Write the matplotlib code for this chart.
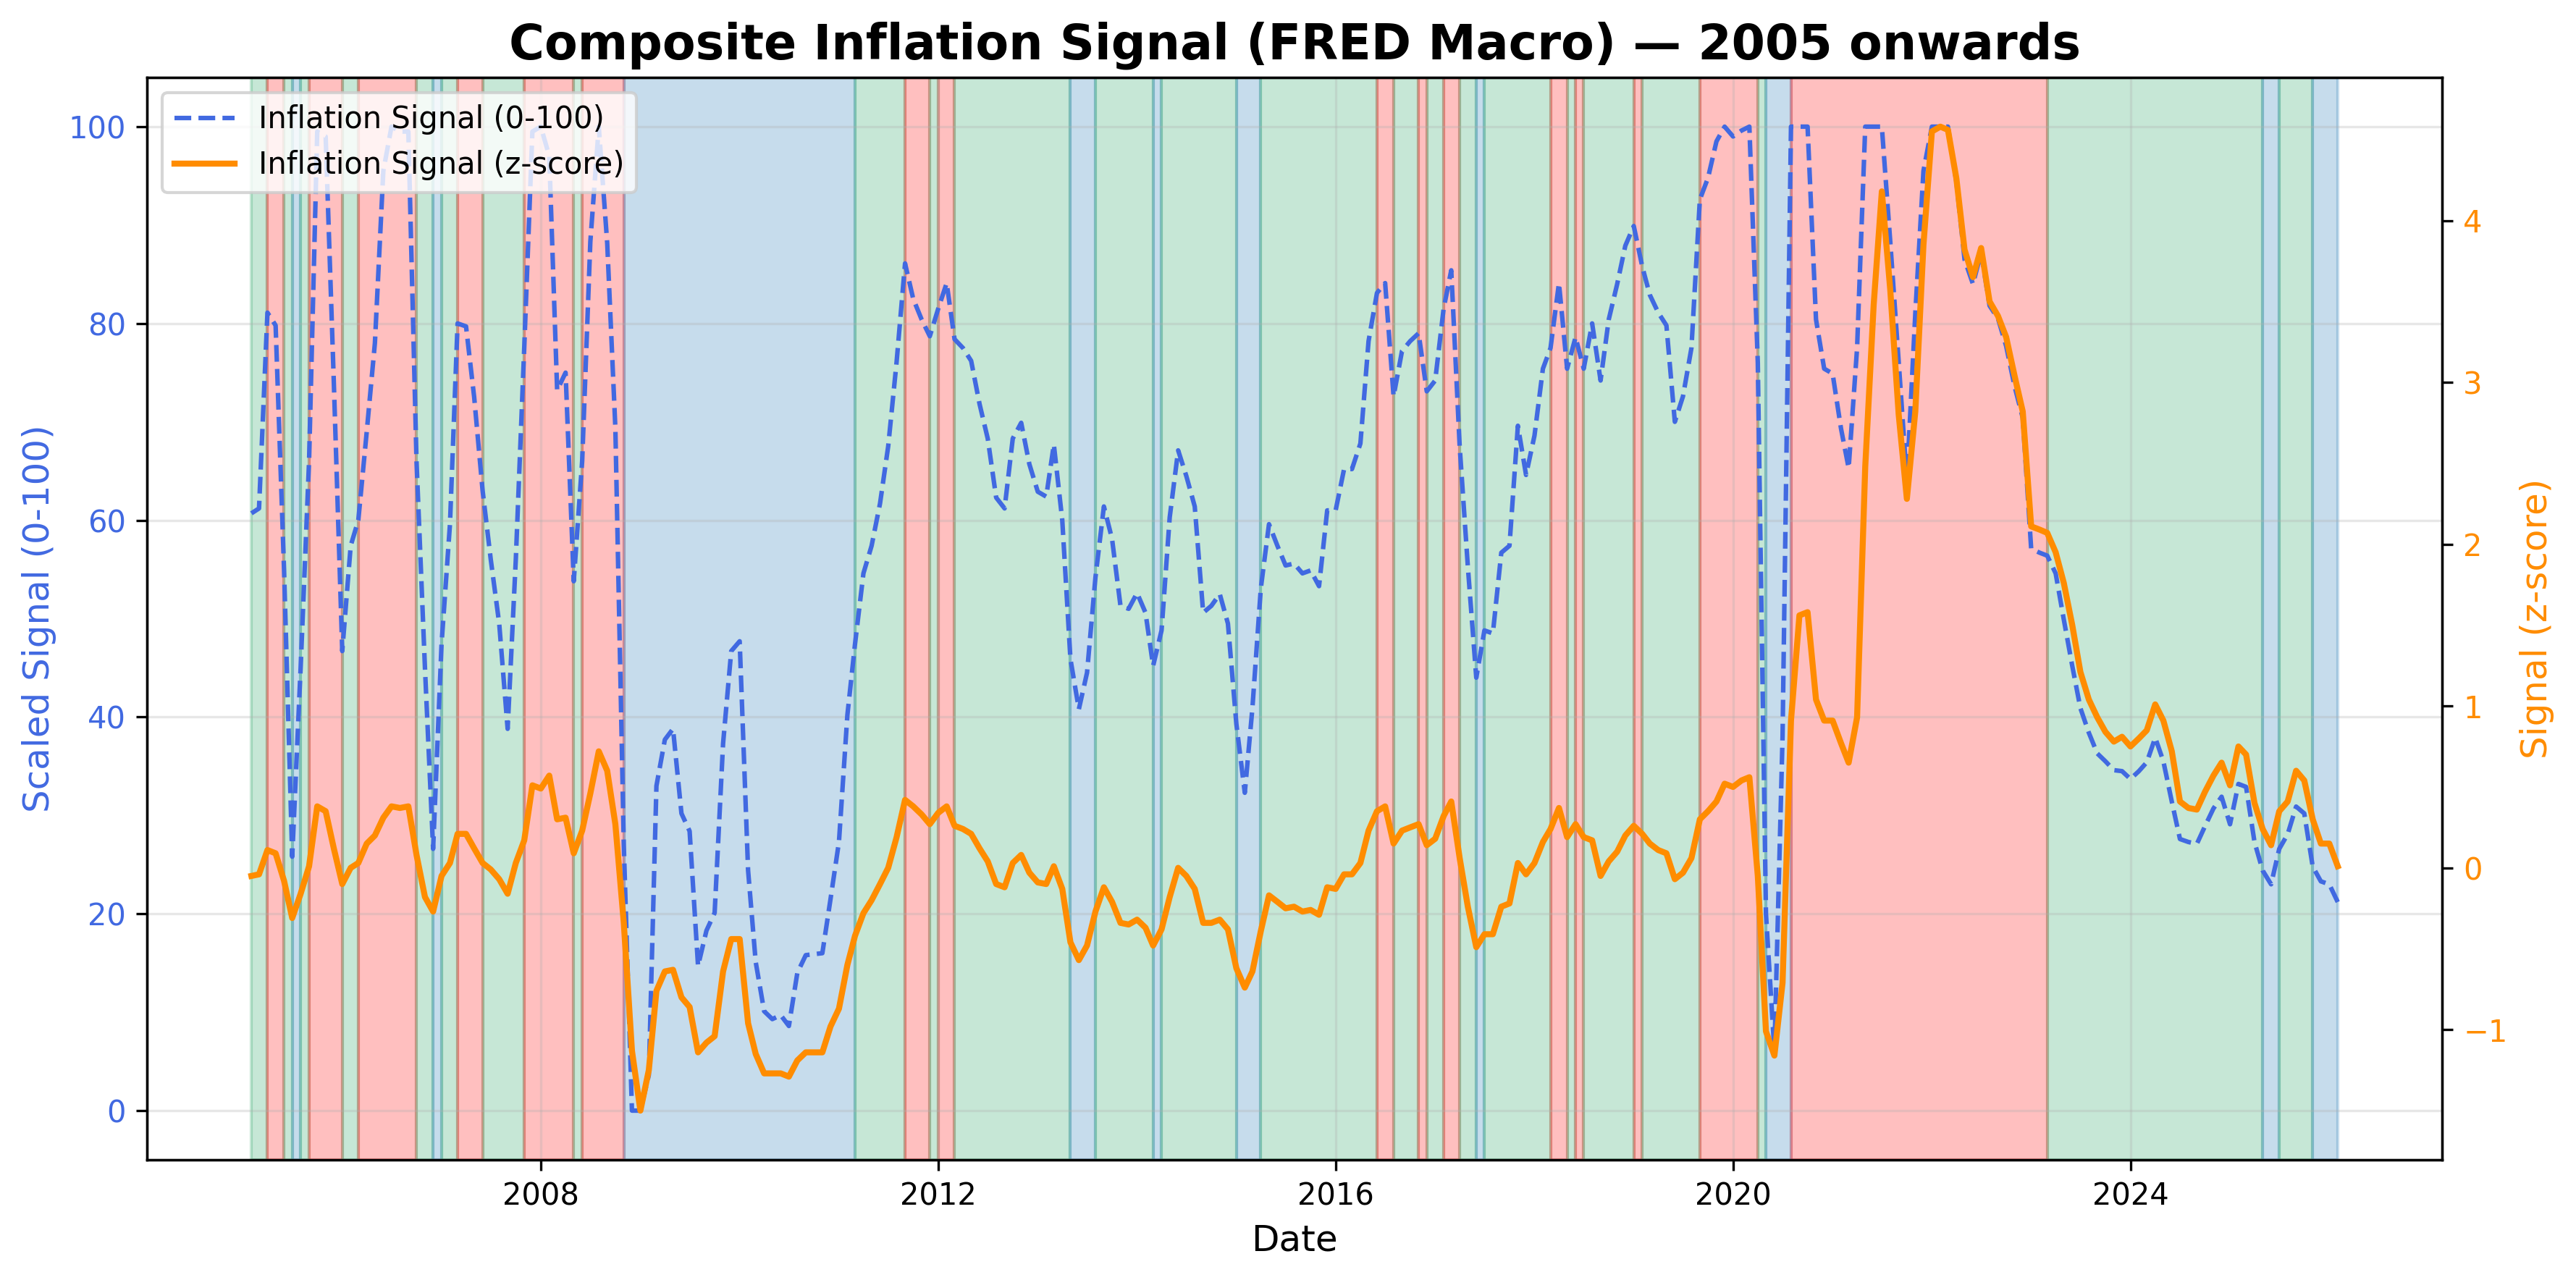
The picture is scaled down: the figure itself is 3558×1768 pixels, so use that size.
# Composite inflation signal chart (FRED macro), 2005 onwards
import numpy as np
import pandas as pd
import matplotlib
matplotlib.use("Agg")
import matplotlib.pyplot as plt
import matplotlib.dates as mdates

# Monthly dates, Jan 2005 .. Jan 2026
dates = pd.date_range("2005-01-31", periods=253, freq="ME")

# Scaled signal (0-100)
signal_scaled = [
    60.7, 61.2, 81.1, 79.8, 55.0, 25.8, 45.0, 66.0, 99.5, 99.0,
    74.0, 46.7, 57.4, 60.0, 69.0, 78.0, 95.5, 100.0, 99.5, 99.5,
    66.0, 45.0, 26.6, 47.4, 59.6, 80.0, 79.7, 72.5, 63.0, 56.0,
    49.5, 38.8, 56.0, 77.5, 99.5, 100.0, 97.0, 73.2, 75.0, 53.8,
    66.0, 88.3, 100.0, 88.2, 69.4, 27.0, 0.0, 0.0, 3.6, 33.0,
    37.7, 38.8, 30.2, 28.4, 14.7, 18.3, 20.1, 37.3, 46.7, 47.7,
    24.4, 15.1, 10.1, 9.3, 9.7, 8.6, 14.0, 15.8, 15.9, 16.0,
    21.5, 27.3, 40.2, 47.4, 54.6, 57.4, 61.7, 67.5, 76.1, 86.1,
    82.5, 80.4, 78.7, 81.5, 84.1, 78.4, 77.5, 76.2, 71.8, 68.3,
    62.3, 61.2, 68.3, 69.9, 65.7, 62.9, 62.4, 67.7, 60.0, 45.9,
    40.8, 44.5, 54.2, 61.4, 58.1, 51.3, 51.0, 52.6, 50.6, 45.2,
    48.8, 60.3, 67.1, 64.5, 61.4, 50.6, 51.3, 52.5, 49.5, 39.3,
    32.3, 40.9, 53.1, 59.6, 57.4, 55.4, 55.6, 54.6, 54.9, 53.3,
    61.0, 61.0, 65.2, 65.2, 67.8, 78.2, 83.1, 84.1, 72.6, 77.2,
    78.2, 79.0, 73.1, 74.2, 81.5, 85.4, 67.5, 55.3, 44.0, 48.8,
    48.5, 56.7, 57.4, 69.6, 64.6, 68.6, 75.4, 77.5, 84.1, 75.4,
    78.6, 75.4, 80.0, 74.2, 80.4, 84.0, 87.9, 89.9, 85.8, 82.9,
    81.1, 79.8, 70.0, 72.6, 77.5, 92.6, 94.8, 98.5, 100.0, 99.0,
    99.6, 100.0, 76.0, 20.0, 6.0, 38.0, 100.0, 100.0, 100.0, 80.4,
    75.4, 74.9, 69.3, 65.3, 77.5, 100.0, 100.0, 100.0, 88.3, 76.1,
    64.0, 81.0, 95.5, 100.0, 100.0, 100.0, 94.4, 86.5, 84.0, 87.2,
    81.8, 80.5, 77.7, 73.6, 70.4, 57.1, 56.7, 56.4, 54.6, 49.9,
    45.2, 40.9, 38.4, 36.3, 35.5, 34.6, 34.5, 33.7, 34.5, 35.4,
    37.9, 35.5, 31.4, 27.6, 27.3, 27.1, 28.9, 30.7, 31.9, 29.1,
    33.2, 32.9, 27.3, 24.4, 23.0, 26.6, 28.1, 30.9, 30.2, 24.8,
    23.3, 23.0, 21.2,
]

# Raw signal (z-score)
signal_z = [
    -0.05, -0.04, 0.11, 0.09, -0.08, -0.31, -0.16, 0.01, 0.38, 0.35,
    0.12, -0.10, 0.00, 0.03, 0.15, 0.20, 0.31, 0.38, 0.37, 0.38,
    0.08, -0.18, -0.27, -0.05, 0.03, 0.21, 0.21, 0.12, 0.03, -0.01,
    -0.07, -0.16, 0.03, 0.17, 0.51, 0.49, 0.57, 0.30, 0.31, 0.09,
    0.23, 0.46, 0.72, 0.60, 0.27, -0.34, -1.13, -1.50, -1.25, -0.76,
    -0.64, -0.63, -0.80, -0.86, -1.14, -1.08, -1.04, -0.64, -0.44, -0.44,
    -0.96, -1.15, -1.27, -1.27, -1.27, -1.29, -1.19, -1.14, -1.14, -1.14,
    -0.98, -0.87, -0.60, -0.42, -0.28, -0.20, -0.10, 0.00, 0.19, 0.42,
    0.38, 0.33, 0.27, 0.34, 0.38, 0.26, 0.24, 0.21, 0.12, 0.04,
    -0.10, -0.12, 0.03, 0.08, -0.03, -0.09, -0.10, 0.01, -0.13, -0.46,
    -0.57, -0.48, -0.27, -0.12, -0.21, -0.34, -0.35, -0.32, -0.37, -0.48,
    -0.38, -0.18, 0.00, -0.05, -0.13, -0.34, -0.34, -0.32, -0.38, -0.62,
    -0.74, -0.64, -0.39, -0.17, -0.21, -0.25, -0.24, -0.27, -0.26, -0.29,
    -0.12, -0.13, -0.04, -0.04, 0.03, 0.23, 0.35, 0.38, 0.15, 0.23,
    0.25, 0.27, 0.14, 0.18, 0.32, 0.41, 0.06, -0.24, -0.49, -0.41,
    -0.41, -0.24, -0.22, 0.03, -0.04, 0.03, 0.16, 0.24, 0.37, 0.19,
    0.27, 0.19, 0.17, -0.05, 0.04, 0.10, 0.20, 0.26, 0.21, 0.15,
    0.11, 0.09, -0.07, -0.03, 0.06, 0.30, 0.35, 0.41, 0.52, 0.50,
    0.54, 0.56, -0.05, -1.01, -1.16, -0.71, 0.91, 1.56, 1.58, 1.04,
    0.91, 0.91, 0.77, 0.65, 0.93, 2.48, 3.48, 4.18, 3.57, 2.80,
    2.28, 2.82, 3.85, 4.55, 4.58, 4.56, 4.26, 3.82, 3.65, 3.83,
    3.50, 3.41, 3.28, 3.04, 2.82, 2.11, 2.09, 2.07, 1.95, 1.76,
    1.50, 1.21, 1.04, 0.93, 0.84, 0.78, 0.81, 0.75, 0.80, 0.85,
    1.01, 0.91, 0.72, 0.41, 0.37, 0.36, 0.47, 0.57, 0.65, 0.51,
    0.75, 0.70, 0.40, 0.24, 0.14, 0.35, 0.41, 0.60, 0.54, 0.30,
    0.15, 0.15, 0.01,
]

# Regime blocks: label and length in months (R = rising, G = falling, B = neutral)
regime_labels = [
    "G", "R", "G", "B", "G", "R", "G", "R", "G", "B", "G", "R", "G", "R", "G", "R",
    "B", "G", "R", "G", "R", "G", "B", "G", "B", "G", "B", "G", "R", "G", "R", "G",
    "R", "G", "B", "G", "R", "G", "R", "G", "R", "G", "R", "G", "B", "R", "G", "B",
    "G", "B",
]
regime_lengths = [
    2, 2, 1, 1, 1, 4, 2, 7, 2, 1, 2, 3, 5, 6, 1, 5,
    28, 6, 3, 1, 2, 14, 3, 7, 1, 9, 3, 14, 2, 3, 1, 2,
    2, 2, 1, 8, 2, 1, 1, 6, 1, 7, 7, 1, 3, 31, 26, 2,
    4, 4,
]
regime_colors = {"R": "#ff0000", "G": "#1fa35e", "B": "#1f77b4"}

fig, ax1 = plt.subplots(figsize=(3558 / 300, 1768 / 300), dpi=300)
fig.subplots_adjust(left=0.0571, right=0.948, top=0.9395, bottom=0.0939)

# shade regimes
start = 0
for label, length in zip(regime_labels, regime_lengths):
    end = min(start + length, len(dates) - 1)
    ax1.axvspan(dates[start], dates[end], color=regime_colors[label], alpha=0.25)
    start += length

line1, = ax1.plot(dates, signal_scaled, color="royalblue", linestyle="--",
                  linewidth=1.5, label="Inflation Signal (0-100)")
ax1.set_xlabel("Date", fontsize=12)
ax1.set_ylabel("Scaled Signal (0-100)", color="royalblue", fontsize=12)
ax1.tick_params(axis="y", labelcolor="royalblue")
ax1.grid(True, alpha=0.3)

ax2 = ax1.twinx()
line2, = ax2.plot(dates, signal_z, color="darkorange", linewidth=2,
                  label="Inflation Signal (z-score)")
ax2.set_ylabel("Signal (z-score)", color="darkorange", fontsize=12)
ax2.tick_params(axis="y", labelcolor="darkorange")

ax1.xaxis.set_major_locator(mdates.YearLocator(4))
ax1.xaxis.set_major_formatter(mdates.DateFormatter("%Y"))

ax2.legend([line1, line2], [line1.get_label(), line2.get_label()], loc="upper left")
ax1.set_title("Composite Inflation Signal (FRED Macro) \u2014 2005 onwards",
              fontsize=16, fontweight="bold")

fig.savefig("out.png", dpi=300)
